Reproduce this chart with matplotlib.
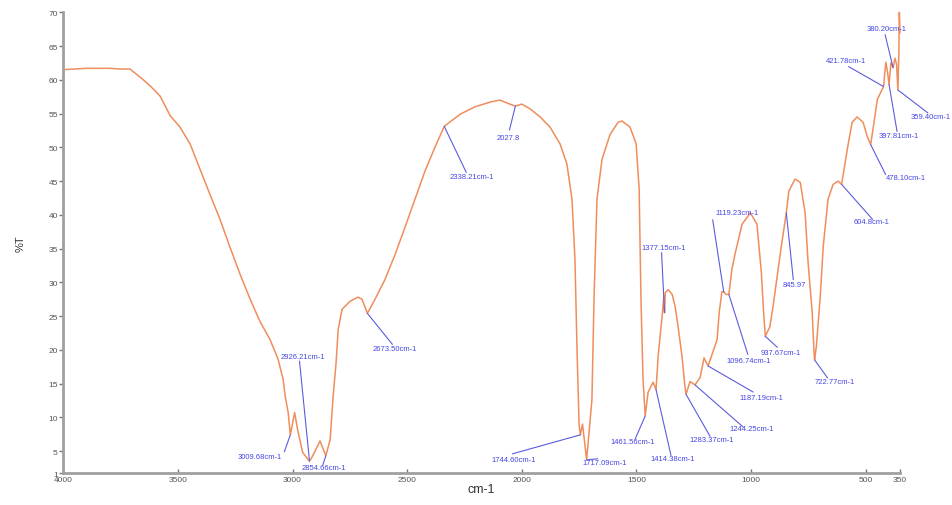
import matplotlib
matplotlib.use('Agg')
import matplotlib.pyplot as plt

# FTIR spectrum
wavenumber = [
    4000, 3950, 3900, 3850, 3800, 3750, 3709, 3680, 3651, 3615, 3578, 3534,
    3491, 3447, 3404, 3360, 3316, 3273, 3229, 3185, 3142, 3098, 3063, 3041,
    3032, 3019, 3009.7, 2991, 2978, 2956, 2926, 2915, 2880, 2854.7, 2836,
    2823, 2810, 2801, 2784, 2749, 2714, 2697, 2680, 2673.5, 2640, 2597, 2553,
    2510, 2466, 2422, 2379, 2338.2, 2269, 2204, 2138, 2095, 2060, 2027.8,
    2000, 1964, 1920, 1877, 1833, 1803, 1781, 1768, 1759, 1750, 1744.6, 1735,
    1717.1, 1694, 1685, 1672, 1650, 1615, 1580, 1563, 1528, 1501, 1488, 1480,
    1471, 1461.6, 1449, 1427, 1414.4, 1405, 1388, 1380, 1377.2, 1374, 1361,
    1344, 1331, 1318, 1301, 1288, 1283.4, 1266, 1244.3, 1222, 1205, 1187.2,
    1148, 1139, 1127, 1119.2, 1109, 1096.7, 1083, 1069, 1039, 1003, 974, 955,
    945, 937.7, 918, 904, 888, 868, 846, 835, 808, 785, 764, 751, 733, 725,
    722.8, 715, 698, 685, 664, 642, 620, 604.8, 580, 559, 537, 511, 493,
    478.1, 466, 449, 421.8, 412, 404, 397.8, 390, 380.2, 372, 365, 359.4, 355,
    353, 350,
]
transmittance = [
    61.5, 61.6, 61.7, 61.7, 61.7, 61.6, 61.6, 60.8, 60.0, 58.9, 57.6, 54.7,
    53.0, 50.5, 46.8, 43.0, 39.3, 35.2, 31.2, 27.5, 24.2, 21.5, 18.6, 15.6,
    13.1, 10.7, 7.4, 10.7, 8.2, 4.8, 3.5, 4.1, 6.5, 4.3, 6.7,
    13.1, 18.1, 23.0, 26.0, 27.2, 27.8, 27.5, 26.0, 25.4, 27.5, 30.4, 34.1,
    38.1, 42.3, 46.5, 50.0, 53.1, 54.9, 56.0, 56.7, 57.0, 56.5, 56.1,
    56.4, 55.7, 54.5, 53.0, 50.5, 47.5, 42.3, 33.4, 20.0, 8.9, 7.4, 9.0,
    3.7, 12.6, 27.4, 42.3, 48.2, 51.9, 53.7, 53.9, 53.0, 50.5, 43.8, 27.4,
    15.6, 10.2, 13.7, 15.2, 14.1, 19.1, 24.9, 28.0, 25.5, 28.5, 28.9,
    28.2, 26.4, 23.4, 19.0, 14.5, 13.4, 15.3, 14.8, 15.9, 18.8, 17.6,
    21.5, 25.5, 28.6, 28.6, 28.2, 28.2, 32.0, 34.3, 38.6, 40.3, 38.6, 31.5,
    25.5, 22.0, 23.4, 26.4, 30.4, 35.3, 40.3, 43.5, 45.3, 44.8, 40.3, 32.9, 25.5, 19.6,
    18.5, 20.5, 27.9, 35.3, 42.3, 44.5, 45.0, 44.5, 49.7, 53.7, 54.5, 53.7, 51.6,
    50.4, 53.1, 57.1, 59.0, 62.6, 61.0, 59.3, 62.5, 61.8, 63.2, 62.3, 58.5, 64.0,
    70.0, 67.0,
]

# peak labels: text, wavenumber, %T at the pick
peak_text = [
    '3009.68cm-1', '2926.21cm-1', '2854.66cm-1', '2673.50cm-1', '2338.21cm-1',
    '2027.8', '1744.60cm-1', '1717.09cm-1', '1461.56cm-1', '1414.38cm-1',
    '1377.15cm-1', '1283.37cm-1', '1244.25cm-1', '1187.19cm-1', '1096.74cm-1',
    '1119.23cm-1', '937.67cm-1', '845.97', '722.77cm-1', '604.8cm-1',
    '478.10cm-1', '421.78cm-1', '380.20cm-1', '397.81cm-1', '359.40cm-1',
]
peak_wn = [
    3009.7, 2926, 2854.7, 2673.5, 2338.2, 2027.8, 1744.6, 1717.1, 1461.6,
    1414.4, 1377.2, 1283.4, 1244.3, 1187.2, 1096.7, 1119.2, 937.7, 846,
    722.8, 604.8, 478.1, 421.8, 380.2, 397.8, 359.4,
]
peak_t = [
    7.4, 3.5, 4.3, 25.4, 53.1, 56.1, 7.4, 3.7, 10.2, 14.1, 25.5, 13.4, 14.8,
    17.6, 28.2, 28.6, 22.0, 40.3, 18.5, 44.5, 50.4, 59.0, 61.8, 59.3, 58.5,
]
# leader end and text centre, offsets in pixels from the pick
line_off = [
    (-6, -17), (-10, 100), (-3, -9), (25, -31), (22, -46), (-6, -24),
    (-68, -19), (11, 1), (-10, -23), (15, -66), (-3, 60), (24, -42),
    (48, -42), (45, -26), (19, -60), (-11, 72), (12, -11), (7, -67),
    (13, -18), (31, -35), (15, -30), (-35, 20), (-8, 33), (8, -47), (30, -23),
]
text_off = [
    (-31, -22), (-7, 105), (-2, -12), (27, -35), (28, -50), (-7, -31),
    (-67, -25), (18, -3), (-12, -26), (17, -69), (-1, 65), (26, -45),
    (57, -44), (53, -31), (20, -66), (13, 79), (15, -16), (8, -72),
    (20, -22), (30, -37), (35, -33), (-38, 26), (-6, 39), (10, -51), (33, -27),
]

y_ticks = [1.7, 5, 10, 15, 20, 25, 30, 35, 40, 45, 50, 55, 60, 65, 70]
y_tick_labels = ['1'] + [str(v) for v in y_ticks[1:]]
x_ticks = [4000, 3500, 3000, 2500, 2000, 1500, 1000, 500, 350]

plt.rcParams['font.family'] = ['Liberation Sans', 'DejaVu Sans']

fig, ax = plt.subplots(figsize=(9.52, 5.06), dpi=100)
fig.subplots_adjust(left=0.0665, right=0.9454, top=0.9737, bottom=0.0626)

ax.plot(wavenumber, transmittance, color='#ef8d5c', linewidth=1.1, clip_on=False)

for txt, w, t, lo, to in zip(peak_text, peak_wn, peak_t, line_off, text_off):
    ax.annotate('', xy=(w, t), xytext=lo, textcoords='offset pixels',
                arrowprops=dict(arrowstyle='-', color='#5c5ce0', lw=0.8,
                                shrinkA=0, shrinkB=0))
    ax.annotate(txt, xy=(w, t), xytext=to, textcoords='offset pixels',
                ha='center', va='center', fontsize=5.5, color='#4646e4')

ax.set_xlim(4000, 350)
ax.set_ylim(y_ticks[0], 70)
ax.set_xticks(x_ticks)
ax.set_yticks(y_ticks)
ax.set_yticklabels(y_tick_labels)

for side in ['top', 'right']:
    ax.spines[side].set_visible(False)
for side in ['left', 'bottom']:
    ax.spines[side].set_color('#a0a0a0')
    ax.spines[side].set_linewidth(2)

ax.tick_params(axis='y', direction='out', length=3, width=1, color='#777777',
               labelsize=6, labelcolor='#555555', pad=1)
ax.tick_params(axis='x', direction='in', length=3, width=1, color='#777777',
               labelsize=6, labelcolor='#555555', pad=2)

ax.set_xlabel('cm-1', fontsize=9, color='#333333', labelpad=0)
ax.set_ylabel('%T', fontsize=8, color='#333333', labelpad=16)

plt.savefig('out.png', dpi=100)
